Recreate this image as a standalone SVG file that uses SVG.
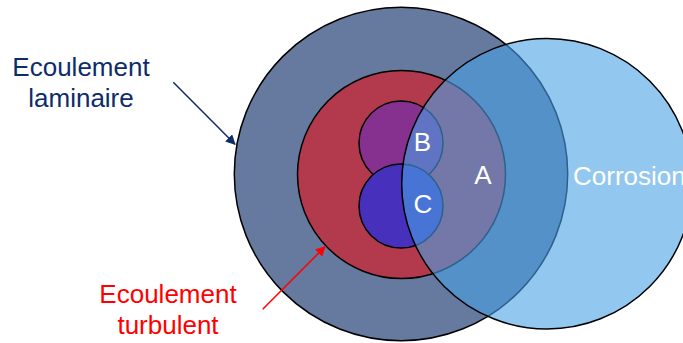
<svg xmlns="http://www.w3.org/2000/svg" width="683" height="343" viewBox="0 0 683 343">
<style>
.ring{stroke:#000;stroke-width:1.5}
.lbl{font-family:"Liberation Sans",Arial,sans-serif;font-size:26px}
.in{fill:#fff;text-anchor:middle}
</style>
<defs>
<marker id="ahNavy" viewBox="0 0 10 10" refX="9" refY="5" markerWidth="10" markerHeight="10" markerUnits="userSpaceOnUse" orient="auto"><path d="M0,0 L10,5 L0,10 z" fill="#0E2C6A"/></marker>
<marker id="ahRed" viewBox="0 0 10 10" refX="9" refY="5" markerWidth="10" markerHeight="10" markerUnits="userSpaceOnUse" orient="auto"><path d="M0,0 L10,5 L0,10 z" fill="#FF0000"/></marker>
</defs>
<rect width="683" height="343" fill="#fff"/>
<g id="laminaire-zone"><circle class="ring" cx="401" cy="174" r="166.7" fill="#66799F"/></g>
<g id="turbulent-zone"><circle class="ring" cx="401.5" cy="174.5" r="104" fill="#B23A4C"/></g>
<g id="B-zone"><circle class="ring" cx="401" cy="143" r="42" fill="#86308F"/></g>
<g id="C-zone"><circle class="ring" cx="401" cy="206" r="42" fill="#4630BC"/></g>
<g id="corrosion-zone"><circle cx="547" cy="183.7" r="145.3" fill="#49A2E6" fill-opacity="0.6" stroke="#000" stroke-width="1.5"/>
<text class="lbl" x="573" y="185" fill="#fff">Corrosion</text></g>
<g id="labels-inner">
<text class="lbl in" x="422.5" y="151">B</text>
<text class="lbl in" x="423" y="212.5">C</text>
<text class="lbl in" x="483" y="183.5">A</text>
</g>
<g id="label-laminaire"><text class="lbl" fill="#0E2C6A" text-anchor="middle" x="81"><tspan x="81" y="76">Ecoulement</tspan><tspan x="81" y="107">laminaire</tspan></text></g>
<g id="label-turbulent"><text class="lbl" fill="#FF0000" text-anchor="middle" x="168"><tspan x="168" y="303">Ecoulement</tspan><tspan x="168" y="334">turbulent</tspan></text></g>
<g id="connectors">
<line x1="173.3" y1="82.3" x2="235" y2="144.3" stroke="#0E2C6A" stroke-width="1.5" marker-end="url(#ahNavy)"/>
<line x1="262.7" y1="309.3" x2="325" y2="246.7" stroke="#FF0000" stroke-width="1.5" marker-end="url(#ahRed)"/>
</g>
</svg>
